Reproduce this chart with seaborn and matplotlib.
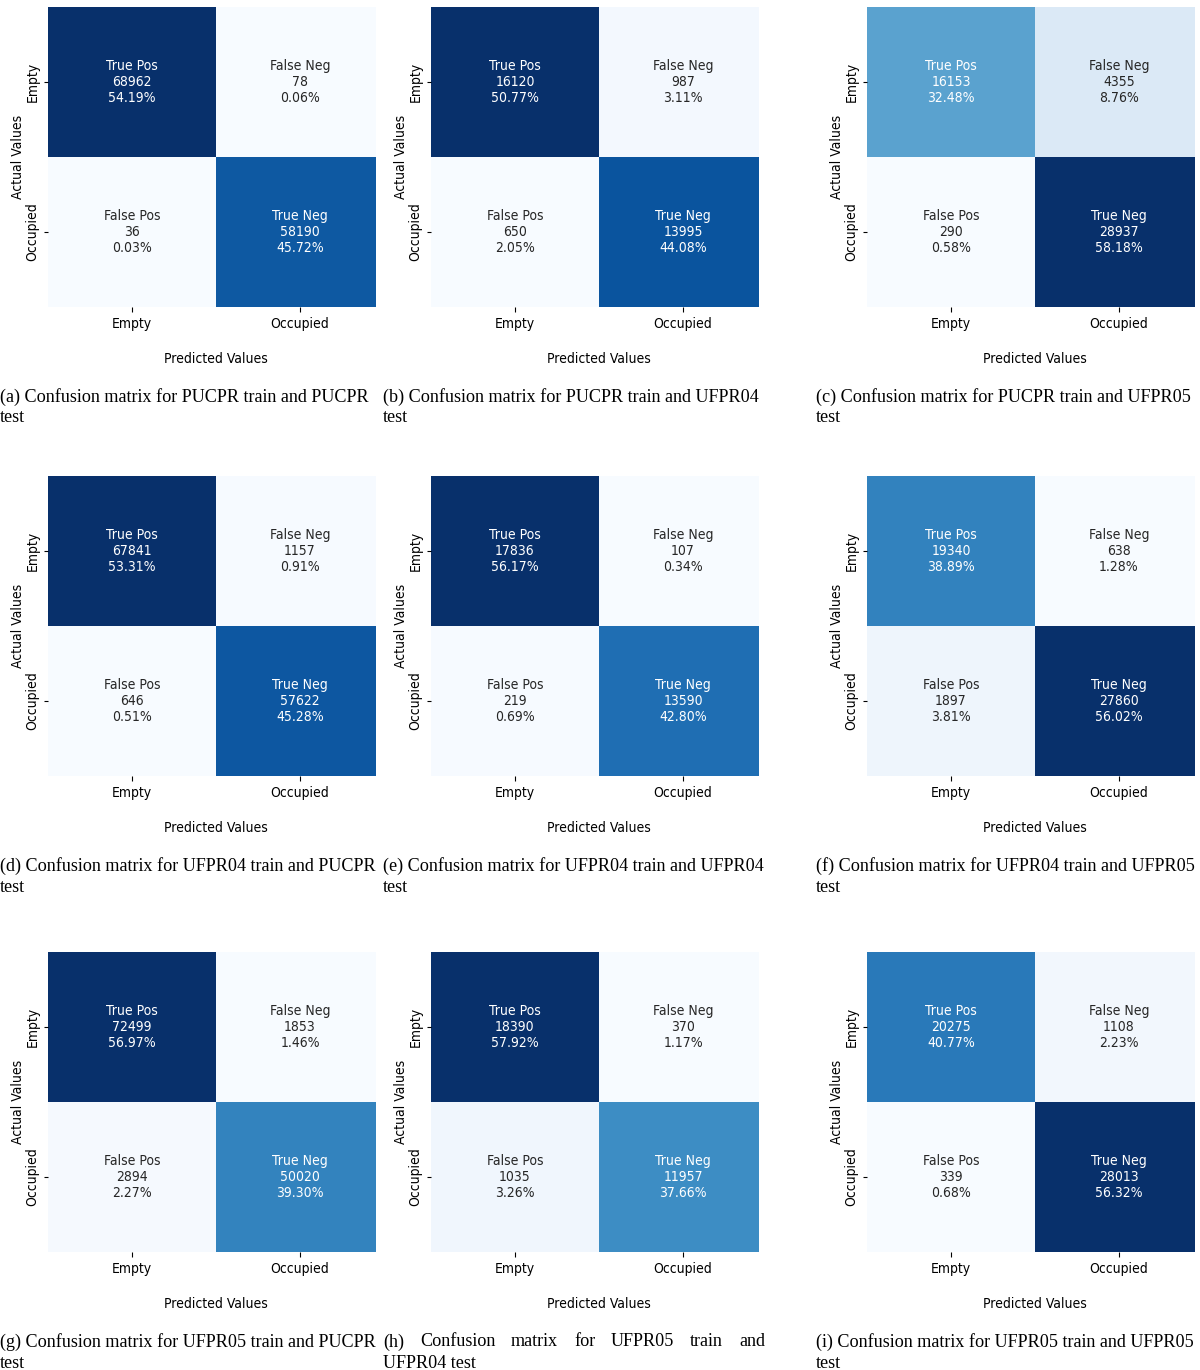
import numpy as np
import matplotlib
matplotlib.use("Agg")
import matplotlib.pyplot as plt
import seaborn as sns

# ==========================================
# DATA
# ==========================================
labels = ["Empty", "Occupied"]
cell_names = ["True Pos", "False Neg", "False Pos", "True Neg"]

counts_a = [68962, 78, 36, 58190]
counts_b = [16120, 987, 650, 13995]
counts_c = [16153, 4355, 290, 28937]
counts_d = [67841, 1157, 646, 57622]
counts_e = [17836, 107, 219, 13590]
counts_f = [19340, 638, 1897, 27860]
counts_g = [72499, 1853, 2894, 50020]
counts_h = [18390, 370, 1035, 11957]
counts_i = [20275, 1108, 339, 28013]

pct_a = ["54.19%", "0.06%", "0.03%", "45.72%"]
pct_b = ["50.77%", "3.11%", "2.05%", "44.08%"]
pct_c = ["32.48%", "8.76%", "0.58%", "58.18%"]
pct_d = ["53.31%", "0.91%", "0.51%", "45.28%"]
pct_e = ["56.17%", "0.34%", "0.69%", "42.80%"]
pct_f = ["38.89%", "1.28%", "3.81%", "56.02%"]
pct_g = ["56.97%", "1.46%", "2.27%", "39.30%"]
pct_h = ["57.92%", "1.17%", "3.26%", "37.66%"]
pct_i = ["40.77%", "2.23%", "0.68%", "56.32%"]

captions = [
    ("(a) Confusion matrix for PUCPR train and PUCPR", "test"),
    ("(b) Confusion matrix for PUCPR train and UFPR04", "test"),
    ("(c) Confusion matrix for PUCPR train and UFPR05", "test"),
    ("(d) Confusion matrix for UFPR04 train and PUCPR", "test"),
    ("(e) Confusion matrix for UFPR04 train and UFPR04", "test"),
    ("(f) Confusion matrix for UFPR04 train and UFPR05", "test"),
    ("(g) Confusion matrix for UFPR05 train and PUCPR", "test"),
    ("(h) Confusion matrix for UFPR05 train and", "UFPR04 test"),
    ("(i) Confusion matrix for UFPR05 train and UFPR05", "test"),
]

all_counts = [counts_a, counts_b, counts_c, counts_d, counts_e,
              counts_f, counts_g, counts_h, counts_i]
all_pct = [pct_a, pct_b, pct_c, pct_d, pct_e, pct_f, pct_g, pct_h, pct_i]

# ==========================================
# LAYOUT (pixel boxes of the heatmaps)
# ==========================================
W, H = 1200, 1370
fig = plt.figure(figsize=(W / 100, H / 100), dpi=100)
renderer = fig.canvas.get_renderer()

col_x = [48, 431, 867]
row_y = [7, 476, 952]
cell_w, ax_w, ax_h = 168, 328, 300   # right cell is cut off like in the paper
cap_x = [0, 383, 816]
cap_fs = 13.05

sans = dict(family="DejaVu Sans", fontstretch="condensed")
fs = 10

for k in range(9):
    r, c = divmod(k, 3)
    x0, y0 = col_x[c], row_y[r]
    ax = fig.add_axes([x0 / W, 1 - (y0 + ax_h) / H, ax_w / W, ax_h / H])

    cm = np.array(all_counts[k]).reshape(2, 2)
    annot = np.array([f"{n}\n{v}\n{p}" for n, v, p in
                      zip(cell_names, all_counts[k], all_pct[k])]).reshape(2, 2)

    sns.heatmap(cm, annot=annot, fmt="", cmap="Blues", cbar=False,
                xticklabels=labels, yticklabels=labels, ax=ax,
                annot_kws={"fontsize": fs, "linespacing": 1.15, **sans})
    ax.set_xlim(0, ax_w / cell_w)
    ax.set_ylim(2, 0)

    ax.set_xlabel("Predicted Values", fontsize=fs, va="center", **sans)
    ax.set_ylabel("Actual Values", fontsize=fs, va="center", **sans)
    ax.xaxis.set_label_coords(cell_w / ax_w, -52 / ax_h)
    ax.yaxis.set_label_coords(-30 / ax_w, 0.5)

    ax.set_xticklabels(labels, fontsize=fs, fontstretch="condensed")
    ax.set_yticklabels(labels, rotation=90, va="center", fontsize=fs, fontstretch="condensed")
    ax.tick_params(axis="x", length=3.5, pad=3.5)
    ax.tick_params(axis="y", length=3, pad=3)

    # captions under each panel
    cy = y0 + 390
    first, second = captions[k]
    if k == 7:
        # justified first line, as in the paper
        words = first.split()
        x_left, x_right = cap_x[c], 765
        objs = [fig.text(0, 1 - cy / H, w, family="Liberation Serif",
                         fontsize=cap_fs, va="center", ha="left") for w in words]
        widths = [o.get_window_extent(renderer).width for o in objs]
        gap = (x_right - x_left - sum(widths)) / (len(words) - 1)
        xx = x_left
        for o, wd in zip(objs, widths):
            o.set_x(xx / W)
            xx += wd + gap
    else:
        fig.text(cap_x[c] / W, 1 - cy / H, first, family="Liberation Serif",
                 fontsize=cap_fs, va="center", ha="left")
    fig.text(cap_x[c] / W, 1 - (cy + 21) / H, second, family="Liberation Serif",
             fontsize=cap_fs, va="center", ha="left")

fig.savefig("out.png", dpi=100)
